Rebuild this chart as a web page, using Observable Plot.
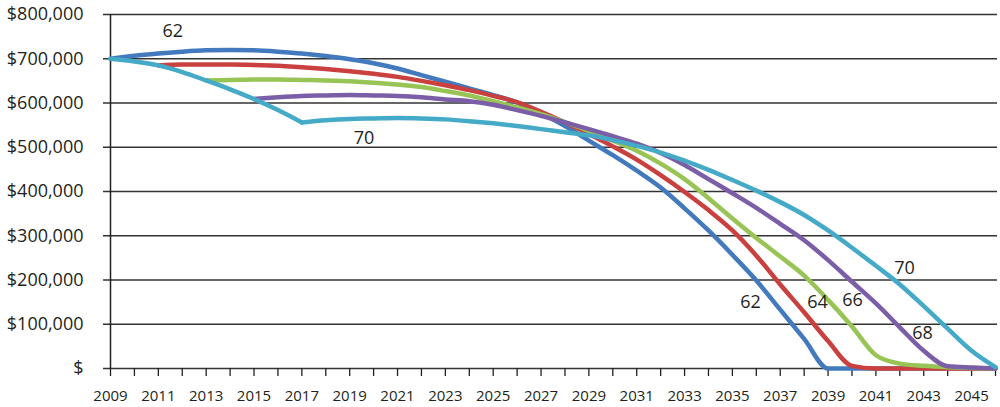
<!DOCTYPE html>
<html>
<head>
<meta charset="utf-8">
<script src="https://cdn.jsdelivr.net/npm/d3@7"></script>
<script src="https://cdn.jsdelivr.net/npm/@observablehq/plot@0.6"></script>
<style>
  html, body { margin: 0; padding: 0; background: #fff; }
  #chart svg { display: block; }
</style>
</head>
<body>
<div id="chart"></div>
<script>
// Years on the x axis (2009 .. 2046)
const years = d3.range(2009, 2047);

// Portfolio value (thousands of $) by year, one array per retirement age; null = not yet started
const age62 = [700, 707, 712, 716, 719, 720, 719, 716, 712, 706, 699, 690, 678, 663, 648, 633, 618, 601, 577, 548, 515, 482, 447, 409, 362, 312, 257, 199, 133, 67, 0, 0, 0, 0, 0, 0, 0, 0];
const age64 = [null, null, 685, 687, 687, 687, 686, 684, 681, 677, 672, 666, 659, 650, 640, 629, 616, 602, 580, 556, 530, 502, 472, 437, 399, 358, 312, 255, 190, 127, 62, 6, 0, 0, 0, 0, 0, 0];
const age66 = [null, null, null, null, 651, 652, 653, 653, 652, 651, 649, 646, 642, 636, 627, 617, 604, 590, 575, 557, 537, 515, 492, 463, 428, 385, 339, 295, 253, 210, 155, 95, 30, 11, 6, 3, 1, 0];
const age68 = [null, null, null, null, null, null, 609, 613, 616, 617, 618, 617, 616, 613, 608, 604, 596, 584, 571, 556, 541, 525, 508, 487, 460, 428, 396, 363, 327, 290, 245, 196, 147, 93, 40, 5, 2, 0];
const age70 = [700, 694, 685, 670, 651, 631, 609, 584, 556, 561, 564, 565, 566, 565, 563, 559, 554, 548, 541, 534, 527, 516, 503, 488, 470, 449, 426, 402, 376, 347, 312, 273, 232, 190, 141, 90, 40, 3];

const seriesNames = ["62", "64", "66", "68", "70"];
const seriesValues = [age62, age64, age66, age68, age70];
const seriesColors = ["#4379bd", "#c9403f", "#98c355", "#7b5ea7", "#44aac7"];
// Year where a line has a sharp corner (age 70 line, start of the 70 plan)
const cornerYears = [null, null, null, null, 2017];

// Axis ticks
const yTicks = [0, 100000, 200000, 300000, 400000, 500000, 600000, 700000, 800000];
const xTickYears = d3.range(2009, 2047);
const xLabelYears = d3.range(2009, 2046, 2);

// Line labels (text, year, value)
const labelText = ["62", "70", "62", "64", "66", "70", "68"];
const labelYear = [2011.6, 2019.6, 2035.76, 2038.56, 2040.02, 2042.2, 2042.95];
const labelValue = [762000, 520000, 149000, 150000, 155000, 226000, 79000];

// Build table (a line with a corner is split into two pieces sharing the corner point)
const rows = [];
seriesValues.forEach((vals, i) => {
  const corner = cornerYears[i];
  vals.forEach((v, j) => {
    if (v === null) return;
    const yr = years[j];
    const val = v * 1000;
    if (corner !== null && yr === corner) {
      rows.push({series: seriesNames[i], piece: seriesNames[i] + "a", year: yr, value: val});
      rows.push({series: seriesNames[i], piece: seriesNames[i] + "b", year: yr, value: val});
    } else {
      const piece = corner !== null && yr > corner ? "b" : "a";
      rows.push({series: seriesNames[i], piece: seriesNames[i] + piece, year: yr, value: val});
    }
  });
});
const labels = labelText.map((t, i) => ({text: t, year: labelYear[i], value: labelValue[i]}));

const fmtY = d => d === 0 ? "$" : "$" + d3.format(",")(d);

const chart = Plot.plot({
  width: 1000,
  height: 407,
  marginLeft: 110,
  marginRight: 5,
  marginTop: 14,
  marginBottom: 39,
  style: {fontFamily: "'Open Sans', sans-serif", background: "#fff", color: "#231f20", fontSize: "18px"},
  x: {domain: [2009, 2046]},
  y: {domain: [0, 800000]},
  color: {domain: seriesNames, range: seriesColors},
  marks: [
    Plot.ruleY(yTicks, {stroke: "#333", strokeWidth: 1.3, insetLeft: -7, insetRight: -2}),
    Plot.axisY({ticks: yTicks, tickSize: 0, tickPadding: 27, tickFormat: fmtY, fontSize: 18, label: null}),
    Plot.ruleX([2009], {y1: 0, y2: 800000, stroke: "#231f20", strokeWidth: 1.5}),
    Plot.axisX({ticks: xTickYears, tickSize: 8, tickPadding: 14, strokeWidth: 1.3,
      tickFormat: d => xLabelYears.includes(d) ? String(d) : "", fontSize: 15, label: null}),
    Plot.line(rows, {x: "year", y: "value", z: "piece", stroke: "series", strokeWidth: 4.5, curve: "monotone-x"}),
    Plot.text(labels, {x: "year", y: "value", text: "text", fill: "#231f20", fontSize: 18})
  ]
});
document.getElementById("chart").appendChild(chart);
</script>
</body>
</html>
